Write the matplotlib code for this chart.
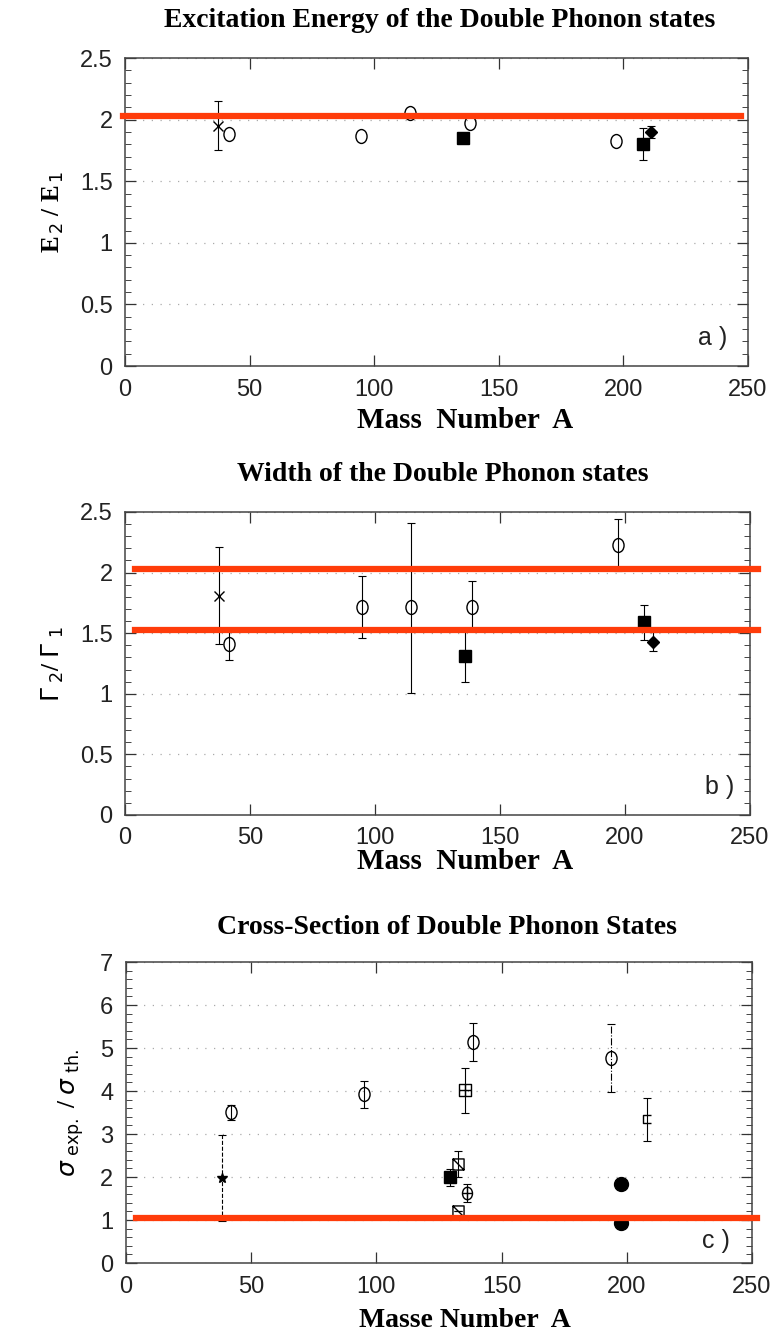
import numpy as np
import matplotlib.pyplot as plt
from matplotlib.path import Path
from matplotlib.ticker import FormatStrFormatter

# ---- data ----
# panel a: E2/E1
a_cross_A = [37.5]; a_cross_y = [1.95]; a_cross_err = [0.20]
a_circ_A = [41.6, 94.6, 114.4, 138.6, 197.0]
a_circ_y = [1.88, 1.87, 2.05, 1.97, 1.83]
a_sq_A = [135.6, 208.0]; a_sq_y = [1.85, 1.80]; a_sq_err = [0.0, 0.13]
a_dia_A = [211.0]; a_dia_y = [1.90]; a_dia_err = [0.05]
a_ref = [2.03]

# panel b: Gamma2/Gamma1
b_cross_A = [37.5]; b_cross_y = [1.81]; b_cross_err = [0.40]
b_circ_A = [41.6, 94.6, 114.4, 138.6, 197.0]
b_circ_y = [1.41, 1.72, 1.72, 1.72, 2.23]
b_circ_lo = [0.13, 0.26, 0.71, 0.20, 0.22]
b_circ_hi = [0.11, 0.25, 0.69, 0.21, 0.21]
b_sq_A = [136.0, 207.6]; b_sq_y = [1.31, 1.59]
b_sq_lo = [0.21, 0.15]; b_sq_hi = [0.21, 0.14]
b_dia_A = [211.2]; b_dia_y = [1.43]; b_dia_err = [0.08]
b_ref = [2.03, 1.53]

# panel c: sigma_exp / sigma_th
c_ast_A = [38.2]; c_ast_y = [1.97]; c_ast_err = [1.0]
c_circ_A = [42.0, 95.2, 138.6]
c_circ_y = [3.52, 3.93, 5.13]
c_circ_lo = [0.20, 0.33, 0.42]
c_circ_hi = [0.15, 0.30, 0.45]
c_circ2_A = [193.5]; c_circ2_y = [4.77]; c_circ2_lo = [0.80]; c_circ2_hi = [0.80]
c_sqp_A = [135.5]; c_sqp_y = [4.02]; c_sqp_err = [0.52]
c_sq_A = [129.5]; c_sq_y = [1.99]; c_sq_err = [0.20]
c_hsq_A = [132.5, 132.5]; c_hsq_y = [2.30, 1.22]; c_hsq_err = [0.30, 0.0]
c_cplus_A = [136.0]; c_cplus_y = [1.63]; c_cplus_err = [0.20]
c_dot_A = [197.5, 197.5]; c_dot_y = [1.83, 0.93]
c_brk_A = [208.0]; c_brk_y = [3.35]; c_brk_err = [0.50]
c_ref = [1.05]

RED = '#ff3c0a'
SERIF = ['Liberation Serif', 'DejaVu Serif']
SANS = ['Liberation Sans Narrow', 'Liberation Sans', 'DejaVu Sans']

M, L, C = Path.MOVETO, Path.LINETO, Path.CLOSEPOLY
sq_diag = Path([(-1, -1), (1, -1), (1, 1), (-1, 1), (-1, -1), (-1, 1), (1, -1)],
               [M, L, L, L, C, M, L])
sq_plus = Path([(-1, -1), (1, -1), (1, 1), (-1, 1), (-1, -1), (0, -1), (0, 1), (-1, 0), (1, 0)],
               [M, L, L, L, C, M, L, M, L])
circ = Path.unit_circle()
ell = Path(circ.vertices * np.array([0.8, 1.0]), circ.codes)
circ_plus = Path.make_compound_path(ell, Path([(-0.8, 0), (0.8, 0), (0, -1), (0, 1)], [M, L, M, L]))
bracket = Path([(1, 1), (-1, 1), (-1, -1), (1, -1)], [M, L, L, L])

fig = plt.figure(figsize=(7.8, 13.34), dpi=100)
ax_a = fig.add_axes([0.1603, 0.7256, 0.7987, 0.2309])
ax_b = fig.add_axes([0.1603, 0.3891, 0.8013, 0.2271])
ax_c = fig.add_axes([0.1615, 0.0532, 0.8026, 0.2256])


def eb(ax, x, y, yerr, marker, ms, fc='none', ls='-', mew=1.0, cap=3):
    cont = ax.errorbar(x, y, yerr=yerr, fmt='none', ecolor='k', elinewidth=0.8,
                       capsize=cap, capthick=0.8, zorder=3)
    if ls != '-':
        for lc in cont[2]:
            lc.set_linestyle(ls)
    ax.plot(x, y, linestyle='none', marker=marker, ms=ms, mfc=fc, mec='k',
            mew=mew, zorder=4)


def style(ax, ymax, ystep, yminor, letter, lx, ly, ylabel):
    ax.set_xlim(0, 250)
    ax.set_ylim(0, ymax)
    ax.set_xticks(np.arange(0, 251, 50))
    ax.set_yticks(np.arange(0, ymax + 1e-9, ystep))
    ax.set_yticks(np.arange(0, ymax + 1e-9, yminor), minor=True)
    ax.yaxis.set_major_formatter(FormatStrFormatter('%g'))
    ax.tick_params(direction='in', top=True, right=True, length=8, width=0.9,
                   color='#333333', labelsize=17, labelcolor='#222222', pad=9)
    ax.tick_params(which='minor', direction='in', right=True, length=4, width=0.7,
                   color='#444444')
    for lab in ax.get_xticklabels() + ax.get_yticklabels():
        lab.set_family(SANS)
    for s in ax.spines.values():
        s.set_color('#444444')
        s.set_linewidth(1.1)
    ax.grid(axis='y', which='major', color='#aaaaaa', linestyle=(0, (1, 6)), lw=0.9)
    ax.text(lx, ly, letter, fontsize=18, family=SANS, color='#222222')
    ax.set_ylabel(ylabel, fontsize=18, family=SERIF, fontweight='bold', labelpad=10)


# panel a
eb(ax_a, a_cross_A, a_cross_y, a_cross_err, 'x', 7)
eb(ax_a, a_circ_A, a_circ_y, None, ell, 10)
eb(ax_a, a_sq_A, a_sq_y, a_sq_err, 's', 9, fc='k')
eb(ax_a, a_dia_A, a_dia_y, a_dia_err, 'D', 6, fc='k')
for v in a_ref:
    ax_a.plot([-1, 247], [v, v], color=RED, lw=4.5, clip_on=False, zorder=5)
style(ax_a, 2.5, 0.5, 0.1, 'a )', 230, 0.17, r'E$_{\,2}$ / E$_{\,1}$')

# panel b
eb(ax_b, b_cross_A, b_cross_y, b_cross_err, 'x', 7)
eb(ax_b, b_circ_A, b_circ_y, [b_circ_lo, b_circ_hi], ell, 10)
eb(ax_b, b_sq_A, b_sq_y, [b_sq_lo, b_sq_hi], 's', 9, fc='k')
eb(ax_b, b_dia_A, b_dia_y, b_dia_err, 'D', 6, fc='k')
for v in b_ref:
    ax_b.plot([4, 253], [v, v], color=RED, lw=4.5, clip_on=False, zorder=5)
style(ax_b, 2.5, 0.5, 0.1, 'b )', 232, 0.17, r'$\Gamma_{\ 2}$/ $\Gamma_{\ 1}$')

# panel c
eb(ax_c, c_ast_A, c_ast_y, c_ast_err, '*', 7, fc='k', ls='--')
eb(ax_c, c_circ_A, c_circ_y, [c_circ_lo, c_circ_hi], ell, 10)
eb(ax_c, c_circ2_A, c_circ2_y, [c_circ2_lo, c_circ2_hi], ell, 10, ls='-.')
eb(ax_c, c_sqp_A, c_sqp_y, c_sqp_err, sq_plus, 9)
eb(ax_c, c_sq_A, c_sq_y, c_sq_err, 's', 9, fc='k')
eb(ax_c, c_hsq_A, c_hsq_y, c_hsq_err, sq_diag, 8)
eb(ax_c, c_cplus_A, c_cplus_y, c_cplus_err, circ_plus, 9)
eb(ax_c, c_dot_A, c_dot_y, None, 'o', 10, fc='k')
eb(ax_c, c_brk_A, c_brk_y, c_brk_err, bracket, 6)
for v in c_ref:
    ax_c.plot([4, 252], [v, v], color=RED, lw=4.5, clip_on=False, zorder=5)
style(ax_c, 7, 1, 0.2, 'c )', 230, 0.35,
      r'$\sigma_{\ \mathrm{exp.}}$ / $\sigma_{\ \mathrm{th.}}$')

# titles and x labels
title_kw = dict(ha='center', va='center', fontsize=20, family=SERIF, fontweight='bold')
fig.text(0.564, 0.985, 'Excitation Energy of the Double Phonon states', **title_kw)
fig.text(0.568, 0.644, 'Width of the Double Phonon states', **title_kw)
fig.text(0.573, 0.305, 'Cross-Section of Double Phonon States', **title_kw)
xl_kw = dict(ha='center', va='center', fontsize=21, family=SERIF, fontweight='bold')
fig.text(0.596, 0.685, 'Mass  Number  A', **xl_kw)
fig.text(0.596, 0.354, 'Mass  Number  A', **xl_kw)
fig.text(0.596, 0.001, 'Masse Number  A', ha='center', va='bottom', fontsize=20,
         family=SERIF, fontweight='bold')

fig.savefig('out.png', dpi=100)
